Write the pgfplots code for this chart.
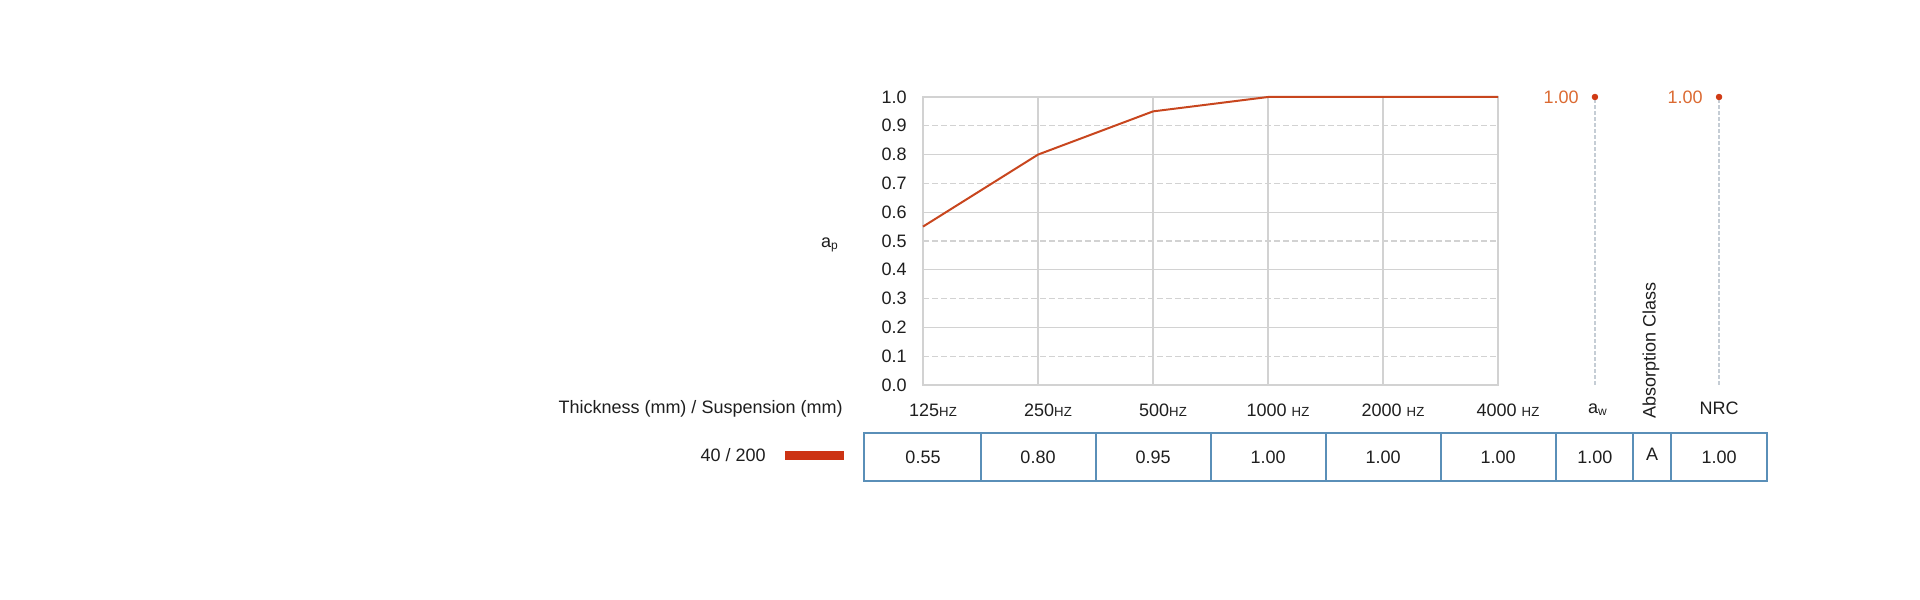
\documentclass[border=0pt]{standalone}
\usepackage{fontspec}
\setmainfont{Liberation Sans}
\usepackage{pgfplots}
\pgfplotsset{compat=1.18}
\usepackage{pgfplotstable}

\definecolor{linecol}{HTML}{C8461E}
\definecolor{barred}{HTML}{CC3314}
\definecolor{dotred}{HTML}{D03A14}
\definecolor{valorange}{HTML}{DB6A32}
\definecolor{tblblue}{HTML}{5A8FB8}
\definecolor{gridgray}{HTML}{D2D2D2}
\definecolor{dropcol}{HTML}{C5CDD5}
\definecolor{txt}{HTML}{1E1E1E}

\pgfplotsset{/pgf/number format/assume math mode=true}

\newcommand\hz{{\fontsize{6.6pt}{7pt}\selectfont HZ}}

% absorption per octave band (x = band index)
\pgfplotstableread{
x a
0 0.55
1 0.80
2 0.95
3 1.00
4 1.00
5 1.00
}\freqdata

% single number ratings: a_w and NRC
\pgfplotstableread{
x v
5.843 1.00
6.922 1.00
}\ratings

\begin{document}
\fontsize{9pt}{10.8pt}\selectfont
\color{txt}
\begin{tikzpicture}
\path[use as bounding box] (0,0) rectangle (960pt,299.5pt);

\begin{axis}[
  at={(461.5pt,107pt)}, anchor=south west,
  scale only axis, width=287.5pt, height=144pt,
  xmin=0, xmax=5, ymin=0, ymax=1,
  clip=false,
  axis line style={draw=gridgray, line width=0.6pt},
  major tick length=0pt, minor tick length=0pt,
  xtick={0,...,5},
  xticklabels={125\hz,250\hz,500\hz,1000 \hz,2000 \hz,4000 \hz},
  xticklabel style={anchor=center, yshift=-12.5pt, xshift=5pt},
  ytick={0,0.1,0.2,0.3,0.4,0.5,0.6,0.7,0.8,0.9,1.0},
  yticklabel={\pgfmathprintnumber[fixed,fixed zerofill,precision=1]{\tick}},
  yticklabel style={anchor=east, inner sep=0pt, xshift=-8pt},
  xmajorgrids,
  major grid style={draw=gridgray, line width=0.6pt},
  minor ytick={0.1,0.3,0.5,0.7,0.9},
  yminorgrids,
  minor grid style={draw=gridgray, line width=0.6pt, dash pattern=on 3pt off 1.5pt},
  extra y ticks={0.2,0.4,0.6,0.8},
  extra y tick labels={},
  extra y tick style={ymajorgrids=true},
  legend plot pos=right,
  legend style={at={(-0.1287,-0.2465)}, anchor=east, draw=none, fill=none,
    inner sep=0pt, column sep=7.5pt, nodes={inner sep=0pt, text=txt}},
]
\addplot[color=linecol, line width=1pt, mark=none,
  legend image code/.code={\draw[line width=4.5pt, barred] (0pt,0.4pt) -- (29.5pt,0.4pt);}]
  table[x=x, y=a] {\freqdata};
\addlegendentry{40 / 200}

\addplot[ycomb, draw=dropcol, line width=0.6pt, dash pattern=on 2pt off 1pt,
  mark=none, forget plot] table[x=x, y=v] {\ratings};
\addplot[only marks, mark=*, mark size=1.4pt, color=dotred, forget plot,
  nodes near coords={\pgfmathprintnumber[fixed,fixed zerofill,precision=2]{\pgfplotspointmeta}},
  every node near coord/.append style={anchor=east, inner sep=0pt, xshift=-8pt, text=valorange}]
  table[x=x, y=v] {\ratings};

\node at (axis description cs:-0.1617,0.487) {a\textsubscript{p}};
\node[anchor=east, inner sep=0pt] at (axis cs:-0.696,-0.083) {Thickness (mm) / Suspension (mm)};
\node at (axis cs:5.87,-0.0868) {a\textsubscript{w}};
\node[rotate=90] at (axis cs:6.33,0.1215) {Absorption Class};
\node at (axis cs:6.922,-0.080) {NRC};
\end{axis}

\begin{axis}[
  at={(432pt,59pt)}, anchor=south west,
  scale only axis, width=451.5pt, height=24pt,
  xmin=-0.513, xmax=7.339, ymin=0, ymax=1,
  clip=false,
  axis line style={draw=tblblue, line width=1pt},
  major tick length=0pt,
  xtick={0.5,1.5,2.5,3.5,4.5,5.5,6.174,6.504},
  xticklabels={},
  ytick=\empty,
  xmajorgrids,
  major grid style={draw=tblblue, line width=1pt},
  every node near coord/.append style={anchor=center, text=txt},
  nodes near coords={\pgfmathprintnumber[fixed,fixed zerofill,precision=2]{\pgfplotspointmeta}},
]
\addplot[only marks, mark=none, point meta=\thisrow{a}]
  table[x=x, y expr=0.5] {\freqdata};
\addplot[only marks, mark=none, point meta=\thisrow{v}]
  table[x=x, y expr=0.5] {\ratings};
\node at (axis cs:6.339,0.56) {A};
\end{axis}
\end{tikzpicture}
\end{document}
